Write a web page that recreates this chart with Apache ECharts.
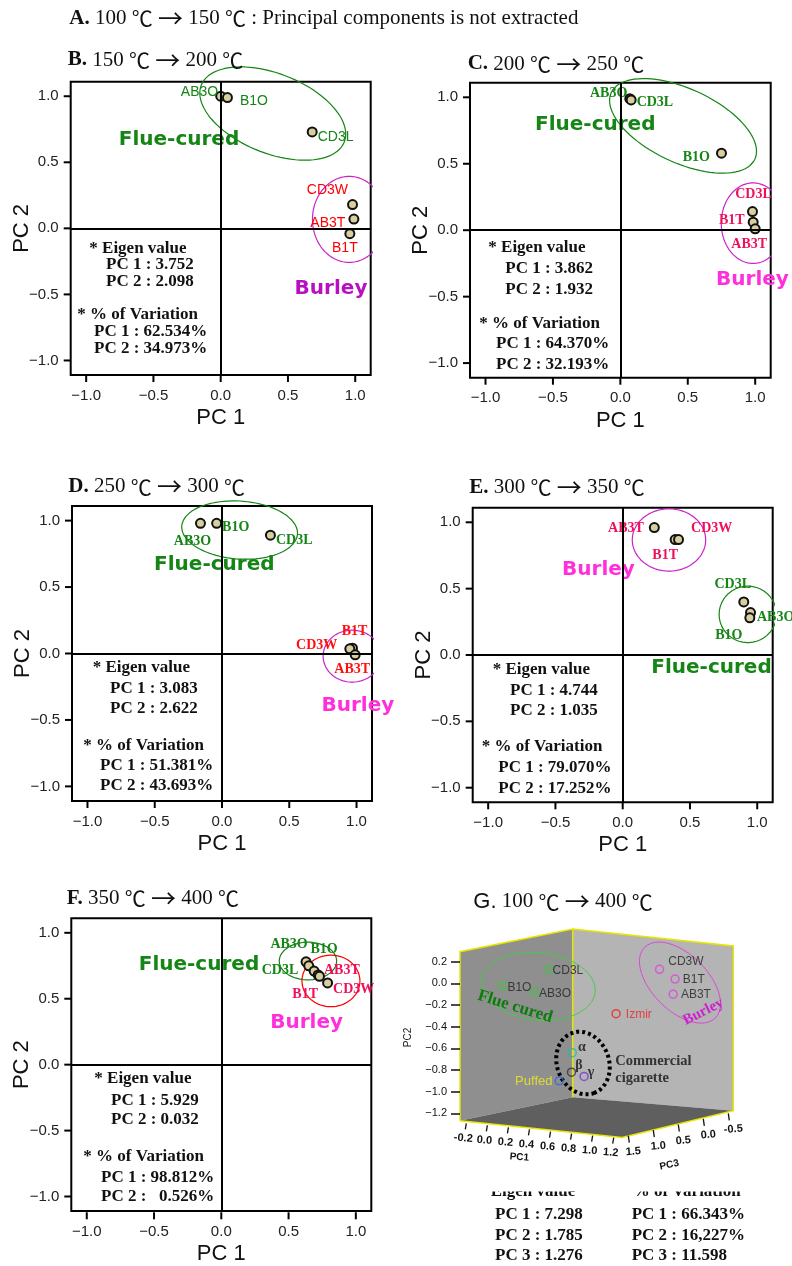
<!DOCTYPE html>
<html>
<head>
<meta charset="utf-8">
<script src="https://cdn.jsdelivr.net/npm/echarts@6/dist/echarts.min.js"></script>
<style>
html, body { margin: 0; padding: 0; background: #fff; }
#chart { width: 792px; height: 1266px; }
</style>
</head>
<body>
<div id="chart"></div>
<script>
// PC 得分
const namesB = ['AB3O', 'B1O', 'CD3L', 'CD3W', 'AB3T', 'B1T']
const pc1B = [0.00, 0.05, 0.68, 0.98, 0.99, 0.96]
const pc2B = [1.00, 0.99, 0.73, 0.18, 0.07, -0.04]
const typeB = ['F', 'F', 'F', 'B', 'B', 'B']

const namesC = ['AB3O', 'CD3L', 'B1O', 'CD3L', 'B1T', 'AB3T']
const pc1C = [0.07, 0.08, 0.75, 0.98, 0.985, 1.00]
const pc2C = [0.99, 0.98, 0.58, 0.14, 0.06, 0.01]
const typeC = ['F', 'F', 'F', 'B', 'B', 'B']

const namesD = ['AB3O', 'B1O', 'CD3L', 'B1T', 'CD3W', 'AB3T']
const pc1D = [-0.16, -0.04, 0.36, 0.97, 0.95, 0.99]
const pc2D = [0.98, 0.98, 0.89, 0.04, 0.035, -0.01]
const typeD = ['F', 'F', 'F', 'B', 'B', 'B']

const namesE = ['AB3T', 'B1T', 'CD3W', 'CD3L', 'AB3O', 'B1O']
const pc1E = [0.235, 0.39, 0.415, 0.90, 0.95, 0.945]
const pc2E = [0.96, 0.87, 0.87, 0.40, 0.32, 0.28]
const typeE = ['B', 'B', 'B', 'F', 'F', 'F']

const namesF = ['AB3O', 'CD3L', 'B1O', 'B1T', 'AB3T', 'CD3W']
const pc1F = [0.63, 0.65, 0.69, 0.72, 0.73, 0.79]
const pc2F = [0.78, 0.75, 0.71, 0.68, 0.67, 0.62]
const typeF = ['F', 'F', 'F', 'B', 'B', 'B']

// 特征值 / 方差贡献率
const eigenB = [3.752, 2.098], varB = [62.534, 34.973]
const eigenC = [3.862, 1.932], varC = [64.370, 32.193]
const eigenD = [3.083, 2.622], varD = [51.381, 43.693]
const eigenE = [4.744, 1.035], varE = [79.070, 17.252]
const eigenF = [5.929, 0.032], varF = [98.812, 0.526]
const eigenG = [7.298, 1.785, 1.276]
const varG = ['66.343%', '16,227%', '11.598']

// 刻度
const pcTicks = [-1.0, -0.5, 0.0, 0.5, 1.0]
const gPc1Ticks = ['-0.2', '0.0', '0.2', '0.4', '0.6', '0.8', '1.0', '1.2']
const gPc3Ticks = ['1.5', '1.0', '0.5', '0.0', '-0.5']

// G：三维图的投影位置（水平方向）与 PC2
const namesG = ['CD3L', 'B1O', 'AB3O', 'CD3W', 'B1T', 'AB3T', 'Izmir', 'α', 'β', 'γ', 'Puffed']
const hG = [0.325, 0.156, 0.272, 0.73, 0.787, 0.78, 0.571, 0.411, 0.408, 0.454, 0.363]
const pc2G = [0.13, -0.02, -0.08, 0.13, 0.04, -0.10, -0.28, -0.64, -0.82, -0.86, -0.90]

// ---------- 样式与布局 ----------
const SERIF = "'Liberation Serif','Noto Sans CJK JP',serif"
const SANS = "'Liberation Sans',Arial,sans-serif"
const CJK = "'Noto Sans CJK JP',sans-serif"
const DJ = "'DejaVu Sans',sans-serif"
const GREEN = '#158515'

const panels = [
  {
    names: namesB, pc1: pc1B, pc2: pc2B, type: typeB, eig: eigenB, vr: varB,
    grid: { left: 70.7, top: 81.7, width: 300, height: 293.3 },
    labelFont: SANS, labelWeight: 'normal', burleyLabel: '#ff0000', burleyText: '#b810c0', burleyRing: '#cc22cc',
    labels: [['left', [8, -4]], ['right', [2, 4]], ['right', [-5, 5]], ['left', [6, -14]], ['left', [2, 4]], ['bottom', [-5, -3]]],
    groups: [['Flue-cured', -0.31, 0.67, 'F'], ['Burley', 0.82, -0.46, 'B']],
    rings: [{ cx: 0.387, cy: 0.869, a: 77, b: 40, ang: -22, g: 'F' }, { cx: 0.955, cy: 0.068, a: 36.7, b: 43.3, ang: 0, g: 'B' }],
    eigPos: [89.3, 248.3, 106, 265, 281.7, 77.3, 314.3, 94, 331.7, 348.3]
  },
  {
    names: namesC, pc1: pc1C, pc2: pc2C, type: typeC, eig: eigenC, vr: varC,
    grid: { left: 470, top: 82.7, width: 300.7, height: 295 },
    labelFont: SERIF, labelWeight: 'bold', burleyLabel: '#f0105a', burleyText: '#ff30dc', burleyRing: '#cc22cc',
    labels: [['left', [8, -5]], ['right', [-5, 2]], ['left', [-1, 4]], ['top', [1, 0]], ['left', [2, -2]], ['bottom', [-6, -2]]],
    groups: [['Flue-cured', -0.186, 0.79, 'F'], ['Burley', 0.98, -0.377, 'B']],
    rings: [{ cx: 0.465, cy: 0.785, a: 79, b: 37, ang: -25, g: 'F' }, { cx: 0.984, cy: 0.053, a: 31.7, b: 40.3, ang: 0, g: 'B' }],
    eigPos: [488.3, 247.3, 505.3, 268.3, 289.3, 479.3, 323.3, 496, 344, 364.3]
  },
  {
    names: namesD, pc1: pc1D, pc2: pc2D, type: typeD, eig: eigenD, vr: varD,
    grid: { left: 72, top: 506, width: 300, height: 295 },
    labelFont: SERIF, labelWeight: 'bold', burleyLabel: '#ff1010', burleyText: '#ff30dc', burleyRing: '#cc22cc',
    labels: [['bottom', [-8, 1]], ['right', [-5, 4]], ['right', [-5, 5]], ['top', [2, 1]], ['left', [-2, -3]], ['bottom', [-3, -3]]],
    groups: [['Flue-cured', -0.057, 0.67, 'F'], ['Burley', 1.01, -0.39, 'B']],
    rings: [{ cx: 0.131, cy: 0.929, a: 58, b: 29, ang: -4, g: 'F' }, { cx: 0.967, cy: -0.02, a: 29, b: 26, ang: 0, g: 'B' }],
    eigPos: [92.7, 667.3, 110, 688.3, 708.3, 83.3, 745.7, 100, 765.7, 786]
  },
  {
    names: namesE, pc1: pc1E, pc2: pc2E, type: typeE, eig: eigenE, vr: varE,
    grid: { left: 472.7, top: 507.7, width: 300, height: 294.6 },
    labelFont: SERIF, labelWeight: 'bold', burleyLabel: '#f0105a', burleyText: '#ff30dc', burleyRing: '#cc22cc',
    labels: [['left', [0, 1]], ['bottom', [-10, -2]], ['right', [2, -11]], ['top', [-11, 0]], ['right', [-4, 5]], ['bottom', [-21, 0]]],
    groups: [['Burley', -0.18, 0.645, 'B'], ['Flue-cured', 0.66, -0.095, 'F']],
    rings: [{ cx: 0.344, cy: 0.867, a: 36.7, b: 31.2, ang: 0, g: 'B' }, { cx: 0.93, cy: 0.306, a: 28.7, b: 28.3, ang: 0, g: 'F' }],
    eigPos: [492.7, 669.3, 510, 690.3, 711, 481.7, 746.7, 498.3, 767.3, 788.7]
  },
  {
    names: namesF, pc1: pc1F, pc2: pc2F, type: typeF, eig: eigenF, vr: varF,
    grid: { left: 71.3, top: 918.3, width: 300, height: 294 },
    labelFont: SERIF, labelWeight: 'bold', burleyLabel: '#f0105a', burleyText: '#ff30dc', burleyRing: '#ff0000',
    labels: [['top', [-17, 0]], ['left', [0, 5]], ['top', [10, -4]], ['bottom', [-13, 2]], ['right', [-6, -6]], ['right', [-5, 6]]],
    groups: [['Flue-cured', -0.166, 0.76, 'F'], ['Burley', 0.634, 0.32, 'B']],
    rings: [{ cx: 0.644, cy: 0.786, a: 28.7, b: 19, ang: 0, g: 'F' }, { cx: 0.815, cy: 0.635, a: 29, b: 26, ang: 0, g: 'B' }],
    eigPos: [94.3, 1079, 111, 1100.7, 1119.3, 83.3, 1156.7, 101, 1177.3, 1197]
  }
]

const titles = [
  ['A.', ' 100 ℃ → 150 ℃ : Principal components is not extracted', 69.3, 18.3],
  ['B.', ' 150 ℃ → 200 ℃', 67.7, 60],
  ['C.', ' 200 ℃ → 250 ℃', 467.7, 64],
  ['D.', ' 250 ℃ → 300 ℃', 68.3, 486.7],
  ['E.', ' 300 ℃ → 350 ℃', 469.3, 487.3],
  ['F.', ' 350 ℃ → 400 ℃', 66.7, 898.3]
]

const fmtTick = (v) => (v < 0 ? '\u2212' : '') + Math.abs(v).toFixed(1)
// ℃ 与 → 用 CJK 字体（全角）
const cjkRich = (s) => s.replace(/℃/g, '{c|℃}').replace(/→/g, '{a|→}')
const titleRich = {
  c: { fontFamily: CJK, fontSize: 21, fill: '#111' },
  a: { fontFamily: CJK, fontSize: 25, fill: '#111' }
}

/**
 * 椭圆轮廓（a、b 为像素，k 为每单位像素数）
 */
const ellipsePoints = (e, kx, ky) => {
  const pts = []
  const t = e.ang * Math.PI / 180
  for (let i = 0; i <= 90; i++) {
    const u = i / 90 * Math.PI * 2
    const dx = e.a * Math.cos(u) * Math.cos(t) - e.b * Math.sin(u) * Math.sin(t)
    const dy = e.a * Math.cos(u) * Math.sin(t) + e.b * Math.sin(u) * Math.cos(t)
    pts.push([e.cx + dx / kx, e.cy + dy / ky])
  }
  return pts
}

const grids = []
const xAxes = []
const yAxes = []
const series = []
const graphics = []

panels.forEach((p, i) => {
  grids.push(Object.assign({ show: true, borderColor: '#000', borderWidth: 2, backgroundColor: 'transparent' }, p.grid))
  const axisCommon = {
    gridIndex: i, type: 'value', min: -1.115, max: 1.115,
    nameLocation: 'middle', nameMoveOverlap: false,
    nameTextStyle: { fontFamily: SANS, fontSize: 22, color: '#111' },
    axisLine: { show: false, onZero: false },
    axisTick: { show: false },
    axisLabel: { customValues: pcTicks, formatter: fmtTick, fontFamily: SANS, fontSize: 15, color: '#222' },
    splitLine: { show: false }
  }
  xAxes.push(Object.assign({}, axisCommon, { name: 'PC 1', nameGap: 32, axisLabel: Object.assign({}, axisCommon.axisLabel, { margin: 13 }) }))
  yAxes.push(Object.assign({}, axisCommon, { min: -1.11, max: 1.11, name: 'PC 2', nameGap: 38, axisLabel: Object.assign({}, axisCommon.axisLabel, { margin: 12 }) }))

  // 分组椭圆
  p.rings.forEach(r => {
    series.push({
      type: 'line', xAxisIndex: i, yAxisIndex: i, clip: false, silent: true,
      showSymbol: false, symbol: 'none', z: 1,
      lineStyle: { width: 1.2, color: r.g === 'F' ? GREEN : p.burleyRing },
      data: ellipsePoints(r, 134.5, 133)
    })
  })

  // 样品点
  series.push({
    type: 'scatter', xAxisIndex: i, yAxisIndex: i, z: 4, symbolSize: 9,
    itemStyle: { color: '#d8cf9e', borderColor: '#111', borderWidth: 2, opacity: 1 },
    data: p.names.map((n, k) => ({
      name: n,
      value: [p.pc1[k], p.pc2[k]],
      label: {
        show: true,
        formatter: n,
        position: p.labels[k][0],
        offset: p.labels[k][1],
        fontFamily: p.labelFont,
        fontWeight: p.labelWeight,
        fontSize: 14,
        color: p.type[k] === 'F' ? GREEN : p.burleyLabel
      }
    })),
    markLine: {
      silent: true, symbol: 'none', animation: false,
      label: { show: false },
      lineStyle: { color: '#000', width: 2, type: 'solid' },
      data: [{ xAxis: 0 }, { yAxis: 0 }]
    }
  })

  // 特征值文字
  const e = p.eigPos
  const pct = (v) => {
    const s = v.toFixed(3)
    return ' '.repeat((6 - s.length) * 2) + s + '%'
  }
  const eigFont = 'bold 17px ' + SERIF
  const lines = [
    ['* Eigen value', e[0], e[1]],
    ['PC 1 : ' + p.eig[0].toFixed(3), e[2], e[3]],
    ['PC 2 : ' + p.eig[1].toFixed(3), e[2], e[4]],
    ['* % of Variation', e[5], e[6]],
    ['PC 1 : ' + pct(p.vr[0]), e[7], e[8]],
    ['PC 2 : ' + pct(p.vr[1]), e[7], e[9]]
  ]
  lines.forEach(l => {
    graphics.push({ type: 'text', x: l[1], y: l[2], z: 5, style: { text: l[0], font: eigFont, fill: '#111', verticalAlign: 'middle' } })
  })
})

// 标题
titles.forEach(t => {
  graphics.push({
    type: 'text', x: t[2], y: t[3], z: 5,
    style: {
      text: '{b|' + t[0] + '}' + cjkRich(t[1]),
      fontFamily: SERIF, fontSize: 21, fill: '#111',
      verticalAlign: 'middle',
      rich: Object.assign({ b: { fontFamily: SERIF, fontSize: 21, fontWeight: 'bold', fill: '#111' } }, titleRich)
    }
  })
})
graphics.push({
  type: 'text', x: 473.3, y: 901.7, z: 5,
  style: {
    text: '{g|G.}' + cjkRich(' 100 ℃ → 400 ℃'),
    fontFamily: SERIF, fontSize: 21, fill: '#111',
    verticalAlign: 'middle',
    rich: Object.assign({ g: { fontFamily: SANS, fontSize: 22, fill: '#111' } }, titleRich)
  }
})

// ---------- G：三维示意 ----------
const gi = panels.length
grids.push({ left: 460, top: 961.7, width: 273.3, height: 151.6, show: false })
xAxes.push({ gridIndex: gi, type: 'value', min: 0, max: 1, show: false })
yAxes.push({
  gridIndex: gi, type: 'value', min: -1.2, max: 0.2, interval: 0.2,
  name: 'PC2', nameLocation: 'middle', nameGap: 47, nameMoveOverlap: false,
  nameTextStyle: { fontFamily: SANS, fontSize: 10, color: '#222' },
  axisLine: { show: false, onZero: false },
  axisTick: { show: true, length: 9, lineStyle: { color: '#111', width: 1.5 } },
  axisLabel: { formatter: fmtTick, fontFamily: SANS, fontSize: 11, color: '#111', margin: 13 },
  splitLine: { show: false }
})

// 墙面与底面
graphics.push(
  { type: 'polygon', z: -2, shape: { points: [[460, 951.7], [572.7, 929], [572.7, 1097.3], [460, 1120.7]] }, style: { fill: '#8f8f8f' } },
  { type: 'polygon', z: -2, shape: { points: [[572.7, 929], [733.3, 946], [733.3, 1110.7], [572.7, 1097.3]] }, style: { fill: '#b4b4b4' } },
  { type: 'polygon', z: -2, shape: { points: [[460, 1120.7], [572.7, 1097.3], [733.3, 1110.7], [622, 1137.5]] }, style: { fill: '#5f5f5f' } },
  { type: 'polyline', z: -1, shape: { points: [[460, 1120.7], [460, 951.7], [572.7, 929], [733.3, 946], [733.3, 1110.7], [622, 1137.5], [460, 1120.7]] }, style: { stroke: '#e6e600', lineWidth: 1.5, fill: null } },
  { type: 'line', z: -1, shape: { x1: 572.7, y1: 929, x2: 572.7, y2: 1097.3 }, style: { stroke: '#e6e600', lineWidth: 1.5 } }
)

// 底部两条轴的刻度
const tickFont = 'bold 11px ' + SANS
gPc1Ticks.forEach((t, k) => {
  const f = k / (gPc1Ticks.length - 1)
  const x = 463.3 + f * (610.7 - 463.3)
  const y = 1138.3 + f * (1152.7 - 1138.3)
  graphics.push({ type: 'line', z: 5, shape: { x1: x + 3, y1: y - 15, x2: x + 2, y2: y - 9 }, style: { stroke: '#111', lineWidth: 1.3 } })
  graphics.push({ type: 'text', x: x, y: y, z: 5, rotation: -0.08, style: { text: t, font: tickFont, fill: '#111', align: 'center', verticalAlign: 'middle' } })
})
gPc3Ticks.forEach((t, k) => {
  const f = k / (gPc3Ticks.length - 1)
  const x = 633.3 + f * (733.3 - 633.3)
  const y = 1151.7 + f * (1129.3 - 1151.7)
  graphics.push({ type: 'line', z: 5, shape: { x1: x - 5, y1: y - 16, x2: x - 4, y2: y - 9 }, style: { stroke: '#111', lineWidth: 1.3 } })
  graphics.push({ type: 'text', x: x, y: y, z: 5, rotation: 0.08, style: { text: t, font: tickFont, fill: '#111', align: 'center', verticalAlign: 'middle' } })
})
graphics.push(
  { type: 'text', x: 519.3, y: 1157.3, z: 5, rotation: -0.08, style: { text: 'PC1', font: 'bold 10px ' + SANS, fill: '#111', align: 'center', verticalAlign: 'middle' } },
  { type: 'text', x: 669.3, y: 1165, z: 5, rotation: 0.2, style: { text: 'PC3', font: 'bold 10px ' + SANS, fill: '#111', align: 'center', verticalAlign: 'middle' } },
  { type: 'text', x: 515, y: 1006.7, z: 5, rotation: -0.3, style: { text: 'Flue cured', font: 'bold 17px ' + SERIF, fill: '#0b7d0b', align: 'center', verticalAlign: 'middle' } },
  { type: 'text', x: 703.3, y: 1011.7, z: 5, rotation: 0.47, style: { text: 'Burley', font: 'bold 15px ' + SERIF, fill: '#cc22cc', align: 'center', verticalAlign: 'middle' } },
  { type: 'text', x: 615.3, y: 1061.7, z: 5, style: { text: 'Commercial', font: 'bold 14.5px ' + SERIF, fill: '#333', verticalAlign: 'middle' } },
  { type: 'text', x: 615.3, y: 1078.3, z: 5, style: { text: 'cigarette', font: 'bold 14.5px ' + SERIF, fill: '#333', verticalAlign: 'middle' } }
)

// G 下方的特征值表
const gFont = 'bold 17px ' + SERIF
graphics.push(
  { type: 'text', x: 533, y: 1192, z: 5, style: { text: 'Eigen value', font: gFont, fill: '#111', align: 'center', verticalAlign: 'middle' } },
  { type: 'text', x: 686.7, y: 1192, z: 5, style: { text: '% of Variation', font: gFont, fill: '#111', align: 'center', verticalAlign: 'middle' } },
  { type: 'rect', z: 6, shape: { x: 470, y: 1174, width: 320, height: 17.5 }, style: { fill: '#fff' } }
)
eigenG.forEach((v, k) => {
  graphics.push({ type: 'text', x: 495, y: 1215 + k * 20.5, z: 5, style: { text: 'PC ' + (k + 1) + ' : ' + v.toFixed(3), font: gFont, fill: '#111', verticalAlign: 'middle' } })
  graphics.push({ type: 'text', x: 631.7, y: 1215 + k * 20.5, z: 5, style: { text: 'PC ' + (k + 1) + ' : ' + varG[k], font: gFont, fill: '#111', verticalAlign: 'middle' } })
})

// G 椭圆
const gRings = [
  { cx: 0.287, cy: -0.028, a: 57, b: 33.7, ang: -6, color: '#44cc44', width: 1, dash: 'solid' },
  { cx: 0.805, cy: 0.007, a: 50, b: 28, ang: -45, color: '#dd44dd', width: 1, dash: 'solid' },
  { cx: 0.45, cy: -0.736, a: 32, b: 26, ang: -70, color: '#000', width: 4, dash: [3, 3] }
]
gRings.forEach(r => {
  series.push({
    type: 'line', xAxisIndex: gi, yAxisIndex: gi, clip: false, silent: true,
    showSymbol: false, symbol: 'none', z: 2,
    lineStyle: { width: r.width, color: r.color, type: r.dash },
    data: ellipsePoints(r, 273.3, 108.3)
  })
})

const gColors = ['#33cc33', '#33cc33', '#33cc33', '#dd44dd', '#dd44dd', '#dd44dd', '#ee2222', '#22bb99', '#333333', '#7733dd', '#3366dd']
const gLabelStyle = [
  ['right', [-6, 1], '#222', SANS, 'normal', 12],
  ['right', [-5, 2], '#222', SANS, 'normal', 12],
  ['right', [-5, 2], '#222', SANS, 'normal', 12],
  ['right', [-1, -8], '#222', SANS, 'normal', 12],
  ['right', [-2, 1], '#222', SANS, 'normal', 12],
  ['right', [-2, 1], '#222', SANS, 'normal', 12],
  ['right', [0, 1], '#ee2222', SANS, 'normal', 12],
  ['right', [-4, -5], '#111', SERIF, 'bold', 14],
  ['right', [-6, -7], '#111', SERIF, 'bold', 14],
  ['right', [-6, -4], '#111', SERIF, 'bold', 14],
  ['left', [3, 1], '#eeee22', SANS, 'normal', 13]
]
series.push({
  type: 'scatter', xAxisIndex: gi, yAxisIndex: gi, z: 4, symbolSize: 8,
  data: namesG.map((n, k) => ({
    value: [hG[k], pc2G[k]],
    itemStyle: { color: 'rgba(0,0,0,0)', borderColor: gColors[k], borderWidth: 1.5 },
    label: {
      show: true, formatter: n,
      position: gLabelStyle[k][0], offset: gLabelStyle[k][1],
      color: gLabelStyle[k][2], fontFamily: gLabelStyle[k][3],
      fontWeight: gLabelStyle[k][4], fontSize: gLabelStyle[k][5]
    }
  }))
})

const chart = echarts.init(document.getElementById('chart'))
chart.setOption({
  animation: false,
  backgroundColor: '#fff',
  grid: grids,
  xAxis: xAxes,
  yAxis: yAxes,
  series: series,
  graphic: { elements: graphics }
})

// 分组名称与外刻度：用坐标轴换算位置后再画
panels.forEach((p, i) => {
  p.groups.forEach(g => {
    const pt = chart.convertToPixel({ gridIndex: i }, [g[1], g[2]])
    graphics.push({
      type: 'text', x: pt[0], y: pt[1], z: 5,
      style: {
        text: g[0], font: 'bold 20px ' + DJ,
        fill: g[3] === 'F' ? GREEN : p.burleyText,
        align: 'center', verticalAlign: 'middle'
      }
    })
  })
  const bottom = p.grid.top + p.grid.height
  const left = p.grid.left
  pcTicks.forEach(v => {
    const x = chart.convertToPixel({ xAxisIndex: i }, v)
    const y = chart.convertToPixel({ yAxisIndex: i }, v)
    graphics.push({ type: 'line', z: 5, shape: { x1: x, y1: bottom, x2: x, y2: bottom + 7 }, style: { stroke: '#000', lineWidth: 2 } })
    graphics.push({ type: 'line', z: 5, shape: { x1: left - 7, y1: y, x2: left, y2: y }, style: { stroke: '#000', lineWidth: 2 } })
  })
})
chart.setOption({ graphic: { elements: graphics } })
</script>
</body>
</html>
